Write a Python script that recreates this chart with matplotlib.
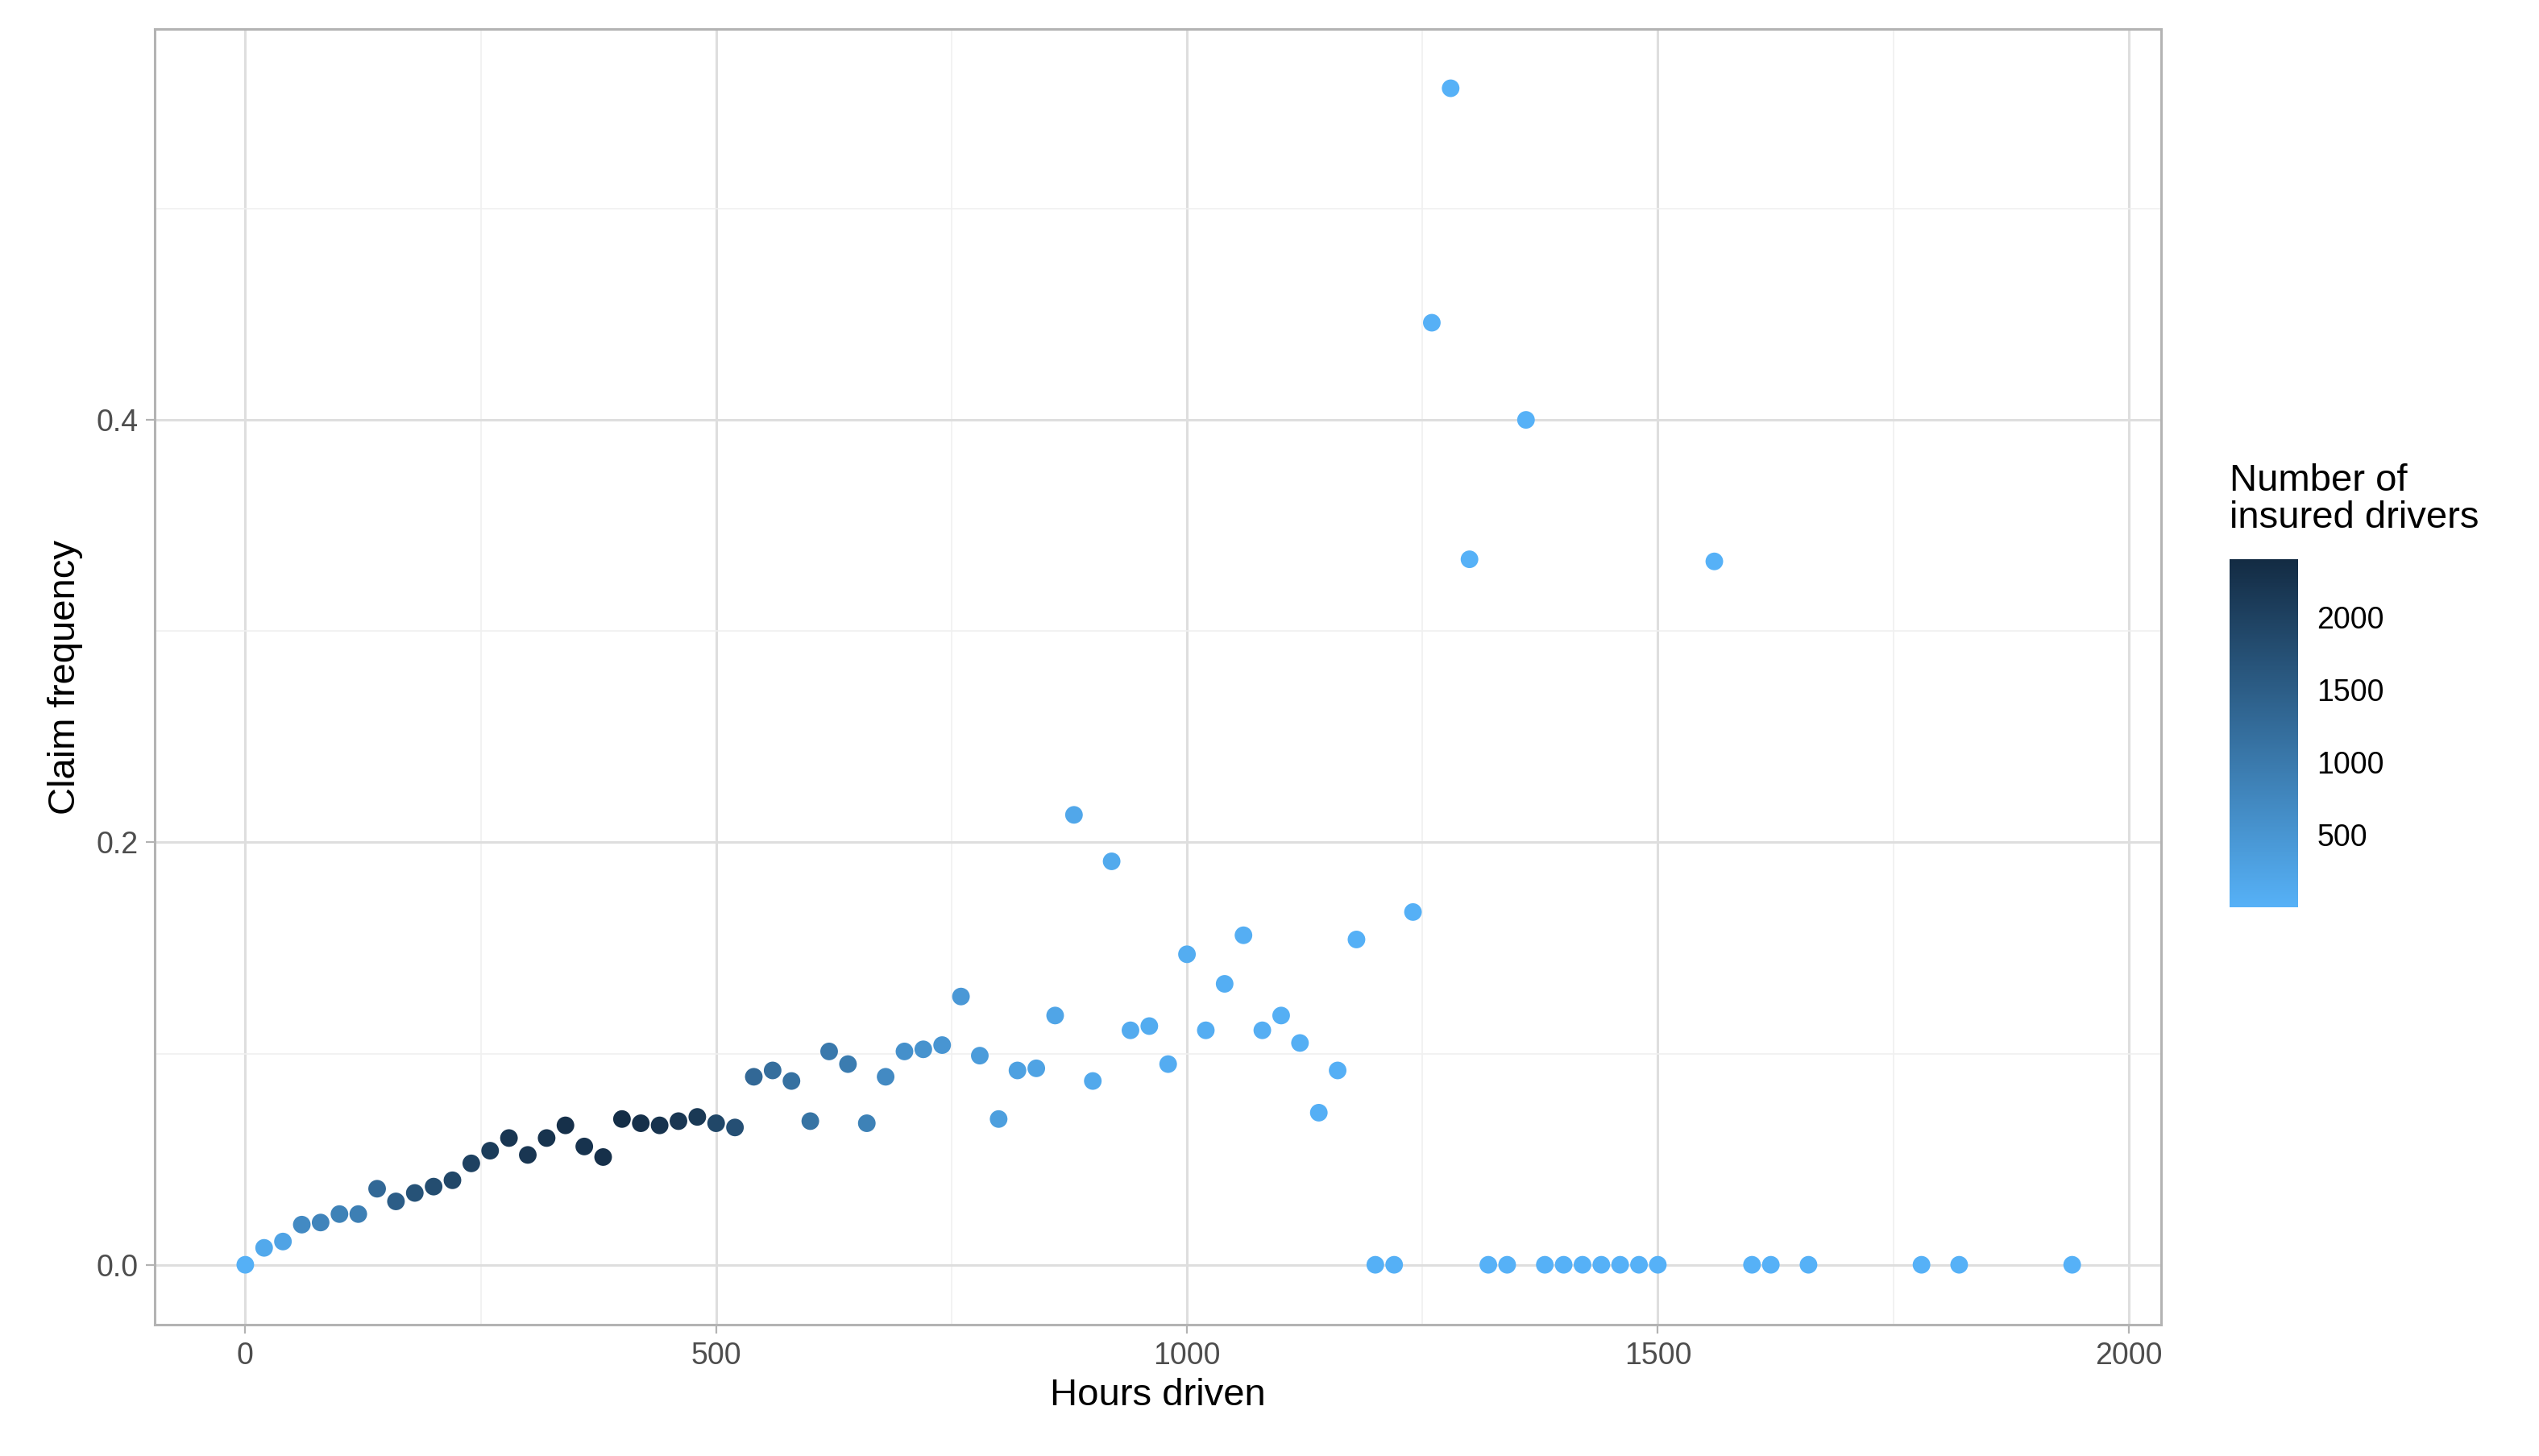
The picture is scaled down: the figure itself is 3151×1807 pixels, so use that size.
import matplotlib
matplotlib.use("Agg")
import matplotlib.pyplot as plt
import numpy as np
from matplotlib.colors import LinearSegmentedColormap, Normalize

hours = [0, 20, 40, 60, 80, 100, 120, 140, 160, 180, 200, 220, 240, 260, 280, 300,
         320, 340, 360, 380, 400, 420, 440, 460, 480, 500, 520, 540, 560, 580, 600,
         620, 640, 660, 680, 700, 720, 740, 760, 780, 800, 820, 840, 860, 880, 900,
         920, 940, 960, 980, 1000, 1020, 1040, 1060, 1080, 1100, 1120, 1140, 1160,
         1180, 1200, 1220, 1240, 1260, 1280, 1300, 1320, 1340, 1360, 1380, 1400,
         1420, 1440, 1460, 1480, 1500, 1560, 1600, 1620, 1660, 1780, 1820, 1940]
claim_freq = [0.0, 0.008, 0.011, 0.019, 0.020, 0.024, 0.024, 0.036, 0.030, 0.034,
              0.037, 0.040, 0.048, 0.054, 0.060, 0.052, 0.060, 0.066, 0.056, 0.051,
              0.069, 0.067, 0.066, 0.068, 0.070, 0.067, 0.065, 0.089, 0.092, 0.087,
              0.068, 0.101, 0.095, 0.067, 0.089, 0.101, 0.102, 0.104, 0.127, 0.099,
              0.069, 0.092, 0.093, 0.118, 0.213, 0.087, 0.191, 0.111, 0.113, 0.095,
              0.147, 0.111, 0.133, 0.156, 0.111, 0.118, 0.105, 0.072, 0.092, 0.154,
              0.0, 0.0, 0.167, 0.446, 0.557, 0.334, 0.0, 0.0, 0.400, 0.0, 0.0,
              0.0, 0.0, 0.0, 0.0, 0.0, 0.333, 0.0, 0.0, 0.0, 0.0, 0.0, 0.0]
n_drivers = [20, 150, 250, 700, 800, 850, 900, 1300, 1500, 1700, 1800, 1900, 2000,
             2100, 2200, 2200, 2250, 2300, 2250, 2300, 2350, 2300, 2250, 2200, 2150,
             1900, 1750, 1300, 1200, 1150, 1100, 1000, 950, 850, 700, 600, 550, 500,
             450, 380, 330, 300, 260, 220, 180, 160, 140, 120, 100, 90, 80, 70, 60,
             55, 50, 45, 40, 35, 30, 28, 25, 22, 20, 12, 10, 9, 8, 8, 6, 6, 5, 5, 5,
             4, 4, 4, 3, 3, 3, 2, 2, 2, 1]

cmap = LinearSegmentedColormap.from_list("gg", ["#56B1F7", "#132B43"])
norm = Normalize(vmin=1, vmax=2400)

plt.rcParams["font.family"] = ["Liberation Sans", "DejaVu Sans"]
fig = plt.figure(figsize=(15.755, 9.035), dpi=200)
ax = fig.add_axes([0.061, 0.090, 0.790, 0.890])
ax.scatter(hours, claim_freq, c=n_drivers, cmap=cmap, norm=norm, s=62,
           edgecolors="none", zorder=3)
ax.set_xlim(-96, 2034)
ax.set_ylim(-0.0285, 0.585)
ax.set_xticks([0, 500, 1000, 1500, 2000])
ax.set_yticks([0.0, 0.2, 0.4])
ax.set_yticklabels(["0.0", "0.2", "0.4"])
ax.set_xticks([250, 750, 1250, 1750], minor=True)
ax.set_yticks([0.1, 0.3, 0.5], minor=True)
ax.grid(which="major", color="#DEDEDE", linewidth=1.1)
ax.grid(which="minor", color="#F0F0F0", linewidth=0.6)
ax.set_axisbelow(True)
for s in ax.spines.values():
    s.set_color("#B3B3B3")
    s.set_linewidth(1.1)
ax.tick_params(which="both", length=4, color="#B3B3B3", labelsize=13.5,
               labelcolor="#4D4D4D")
ax.tick_params(which="minor", length=0)
ax.set_xlabel("Hours driven", fontsize=17, labelpad=3)
ax.set_ylabel("Claim frequency", fontsize=17, labelpad=6)

cax = fig.add_axes([0.878, 0.377, 0.027, 0.239])
sm = matplotlib.cm.ScalarMappable(norm=norm, cmap=cmap)
cb = fig.colorbar(sm, cax=cax, ticks=[500, 1000, 1500, 2000])
cb.outline.set_visible(False)
cb.ax.tick_params(length=5, color="white", labelsize=13.5, width=1)
fig.text(0.878, 0.632, "Number of\ninsured drivers", fontsize=17,
         ha="left", va="bottom", linespacing=1.05)

fig.savefig("out.png", dpi=200)
